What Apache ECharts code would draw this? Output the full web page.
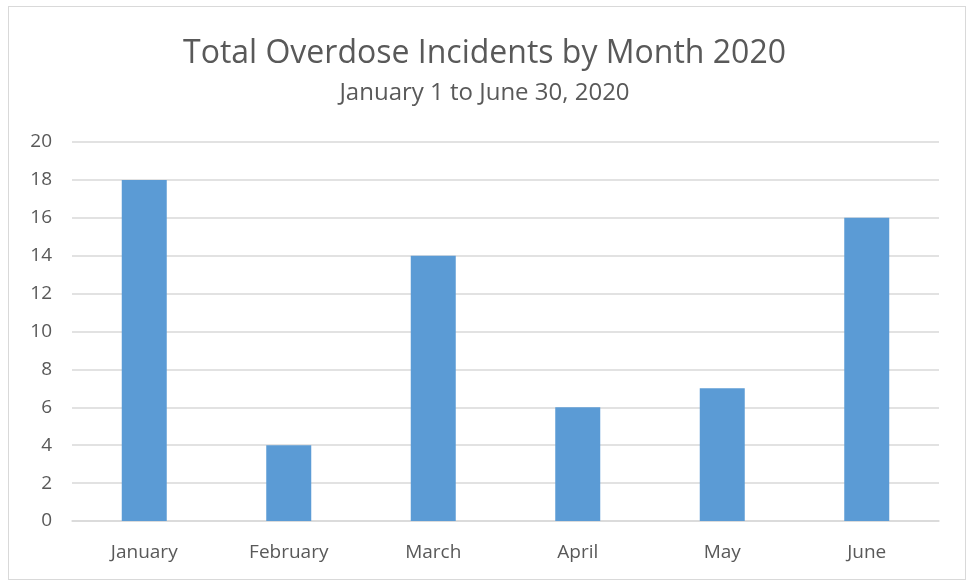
<!DOCTYPE html>
<html><head><meta charset="utf-8">
<script src="https://cdn.jsdelivr.net/npm/echarts@6/dist/echarts.min.js"></script>
<style>html,body{margin:0;padding:0;background:#fff}#c{width:969px;height:582px}
#frame{position:absolute;left:8px;top:6px;width:958px;height:574px;border:1.5px solid #d9d9d9;box-sizing:border-box;pointer-events:none}</style>
</head><body><div id="c"></div><div id="frame"></div>
<script>
const categories = ['January','February','March','April','May','June'];
const incidents = [18, 4, 14, 6, 7, 16];
const yTicks = {min: 0, max: 20, interval: 2};
const titleText = 'Total Overdose Incidents by Month 2020';
const subtitleText = 'January 1 to June 30, 2020';

const chart = echarts.init(document.getElementById('c'), null, {renderer:'canvas'});
const font = 'Open Sans';
chart.setOption({
  animation: false,
  backgroundColor: '#fff',
  title: {
    text: titleText, subtext: subtitleText, left: 'center', top: 33, itemGap: 11,
    textStyle: {fontFamily: font, fontSize: 32, fontWeight: 'normal', color: '#595959'},
    subtextStyle: {fontFamily: font, fontSize: 24, color: '#595959'}
  },
  grid: {left: 72, right: 30, top: 142, bottom: 61, containLabel: false},
  xAxis: {
    type: 'category', data: categories,
    axisLine: {lineStyle: {color: '#d9d9d9', width: 1.5}},
    axisTick: {show: false},
    axisLabel: {fontFamily: font, fontSize: 19, color: '#595959', margin: 22}
  },
  yAxis: {
    type: 'value', min: yTicks.min, max: yTicks.max, interval: yTicks.interval,
    axisLine: {show: false}, axisTick: {show: false},
    splitLine: {lineStyle: {color: '#d9d9d9', width: 1.5}},
    axisLabel: {fontFamily: font, fontSize: 19, color: '#595959', margin: 20}
  },
  series: [{
    type: 'bar', data: incidents, barWidth: 45,
    itemStyle: {color: '#5b9bd5'}
  }]
});
</script></body></html>
